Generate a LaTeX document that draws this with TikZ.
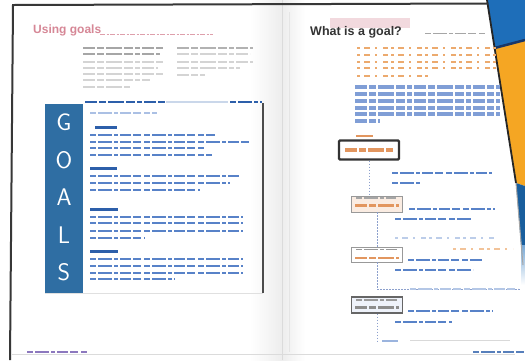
\documentclass[tikz,border=0pt]{standalone}
\usepackage{fontspec}
\newfontfamily\titlefont{Liberation Sans}
\begin{document}
\begin{tikzpicture}[x=1pt,y=-1pt,
  words/.style={dash pattern=on 12pt off 2pt on 7pt off 2pt on 16pt off 2pt on 9pt off 2pt on 5pt off 2pt},
  wordsb/.style={dash pattern=on 6pt off 2pt on 14pt off 2pt on 4pt off 2pt on 11pt off 2pt on 8pt off 3pt},
  sparse/.style={dash pattern=on 3pt off 4pt on 6pt off 5pt on 2pt off 6pt on 5pt off 3pt},
  greytxt/.style={line width=1.5pt, color=black!17, words},
  boxtxt/.style={line width=1.7pt, color=bodyblue, wordsb},
  boxhead/.style={line width=3pt, color=headblue},
  oratxt/.style={line width=1.6pt, color=fadeorange, sparse},
  paratxt/.style={line width=4.2pt, color=parablue, words},
  sidetxt/.style={line width=2.2pt, color=bodyblue, wordsb},
  flowbox/.style={minimum width=51pt, inner sep=0pt},
  conn/.style={line width=1pt, color=connblue, dash pattern=on 1.5pt off 1.5pt},
  letter/.style={text=white, font=\sffamily\fontsize{24}{24}\selectfont}
]
\definecolor{goalblue}{RGB}{47,110,163}
\definecolor{bodyblue}{RGB}{88,130,200}
\definecolor{headblue}{RGB}{45,95,170}
\definecolor{parablue}{RGB}{128,158,214}
\definecolor{fadeorange}{RGB}{236,170,110}
\definecolor{boxorange}{RGB}{226,150,95}
\definecolor{titlepink}{RGB}{214,135,150}
\definecolor{coverblue}{RGB}{30,110,185}
\definecolor{coverorange}{RGB}{245,166,35}
\definecolor{covernavy}{RGB}{25,55,105}
\definecolor{connblue}{RGB}{140,160,205}
\definecolor{footpurple}{RGB}{140,120,190}
\definecolor{frame}{RGB}{55,55,55}
\useasboundingbox (0,0) rectangle (525,360);
\fill[white] (0,0) rectangle (525,360);
% gutter
\shade[left color=white, right color=black!7] (250,0) rectangle (282,360);
\shade[left color=black!7, right color=white] (282,0) rectangle (305,360);
\draw[black!14, line width=0.8pt] (282,0) -- (282,360);
\draw[black!10, line width=1pt] (289,12) -- (289,352);
% cover in the corner
\fill[coverblue] (487,0) -- (525,0) -- (525,40) -- (494.6,48) -- cycle;
\fill[coverorange] (494.6,48) -- (525,40) -- (525,186) -- (516,183) -- cycle;
\draw[covernavy, line width=2.5pt] (494.6,48) -- (525,40);
\fill[coverblue!85!black] (516,183) -- (525,186) -- (525,245) -- (521,245) -- cycle;
\shade[top color=coverblue!60, bottom color=white] (521,245) rectangle (525,285);
\draw[black!85, line width=1.8pt] (487,0) -- (516,183);
\draw[black!35, line width=1pt] (516,183) -- (523,265);
% page frame
\draw[frame, line width=2pt] (10,360) -- (13,5) -- (488,3.5);
\draw[black!14, line width=0.8pt] (12,354) -- (515,354);
% ---------- left page ----------
\node[anchor=west, inner sep=0pt, text=titlepink, font=\titlefont\bfseries\fontsize{12}{12}\selectfont] (ltitle) at (33,30) {Using goals};
\draw[titlepink!80, line width=1pt, dash pattern=on 5pt off 1.5pt on 2pt off 1.5pt] (100,34) -- (213,34);
\draw[greytxt, color=black!35] (83,48) -- (163,48);
\draw[greytxt, color=black!35] (83,54) -- (160,54);
\foreach \y/\e in {62/163,68/158,74/163,80/150,87/130} \draw[greytxt] (83,\y) -- (\e,\y);
\draw[greytxt, color=black!30] (177,48) -- (253,48);
\foreach \y/\e in {54/250,62/253,68/240,75/205} \draw[greytxt] (177,\y) -- (\e,\y);
% goals box
\draw[black!12, line width=0.8pt] (45,293) -- (263,293);
\draw[black!70, line width=1.3pt] (263,103) -- (263,293);
\draw[line width=2.4pt, color=headblue, words] (85,102) -- (165,102);
\draw[line width=2.4pt, color=headblue!25] (166,102) -- (228,102);
\draw[line width=2.4pt, color=headblue, wordsb] (230,102) -- (262,102);
\node[fill=goalblue, minimum width=38pt, minimum height=189pt, inner sep=0pt, anchor=north west] (bar) at (45,104) {};
\node[letter] (lg) at (64,122) {G};
\node[letter] (lo) at (64,160) {O};
\node[letter] (la) at (64,197) {A};
\node[letter] (ll) at (64,235) {L};
\node[letter] (ls) at (64,272) {S};
\draw[line width=1.2pt, color=bodyblue!50, wordsb] (90,113) -- (157,113);
% sections
\draw[boxhead] (95,127) -- (117,127);
\foreach \y/\e in {135/215,142/250,148/205,155/212} \draw[boxtxt] (90,\y) -- (\e,\y);
\draw[boxhead] (90,168) -- (117,168);
\foreach \y/\e in {176/240,183/230,190/200} \draw[boxtxt] (90,\y) -- (\e,\y);
\draw[boxhead] (90,209) -- (118,209);
\foreach \y/\e in {217/243,223/243,231/243,238/145} \draw[boxtxt] (90,\y) -- (\e,\y);
\draw[boxhead] (90,251) -- (118,251);
\foreach \y/\e in {259/243,266/243,273/243,279/175} \draw[boxtxt] (90,\y) -- (\e,\y);
% footer left
\draw[line width=2pt, color=footpurple, wordsb] (27,352) -- (88,352);
% ---------- right page ----------
\fill[titlepink!45, opacity=0.7] (330,18) rectangle (410,28);
\node[anchor=west, inner sep=0pt, text=black!80, font=\titlefont\bfseries\fontsize{12.5}{13}\selectfont] (rtitle) at (310,32) {What is a goal?};
\draw[black!35, line width=1pt, wordsb] (425,33) -- (485,33);
\foreach \y/\e in {48/497,55/497,62/497,68/497,76/430} \draw[oratxt] (357,\y) -- (\e,\y);
\foreach \y/\e in {87/500,94/500,101/500,108/500,114/500,121/380} \draw[paratxt] (355,\y) -- (\e,\y);
\draw[line width=2pt, color=boxorange] (356,136) -- (373,136);
% flow boxes
\node[flowbox, draw=black!80, line width=2.2pt, minimum width=60pt, minimum height=19pt, rounded corners=1pt] (b1) at (369,150) {};
\draw[line width=3.5pt, color=boxorange, words] (345,150) -- (393,150);
\node[flowbox, draw=black!40, fill=boxorange!18, minimum height=16pt] (b2) at (377,204) {};
\draw[line width=1.4pt, color=black!35, wordsb] (356,198) -- (396,198);
\draw[line width=3pt, color=boxorange, words] (355,205) -- (399,205);
\node[flowbox, draw=black!40, minimum height=15pt] (b3) at (377,254.5) {};
\draw[line width=1.4pt, color=black!40, wordsb] (356,249.5) -- (398,249.5);
\draw[line width=2.6pt, color=boxorange, words] (355,258) -- (399,258);
\node[flowbox, draw=black!60, line width=1.2pt, fill=bodyblue!10, minimum height=16pt] (b4) at (377,305) {};
\draw[line width=1.4pt, color=black!40, wordsb] (356,300) -- (398,300);
\draw[line width=3pt, color=black!45, words] (355,307) -- (399,307);
\coordinate (h3) at (520,289);
\coordinate (e4) at (377,341);
\draw[conn] (b1.south) -- (b1.south |- b2.north);
\draw[conn] (b2.south) -- (b3.north);
\draw[conn] (b3.south) |- (h3);
\draw[conn] (b4.south) -- (e4);
% side texts
\draw[sidetxt] (392,173) -- (492,173);
\draw[sidetxt] (392,183) -- (420,183);
\draw[sidetxt] (409,209) -- (495,209);
\draw[sidetxt] (395,219) -- (472,219);
\draw[line width=1.2pt, color=bodyblue!40, sparse] (395,238) -- (495,238);
\draw[line width=1.2pt, color=fadeorange!70, sparse] (453,249) -- (513,249);
\draw[sidetxt] (408,260) -- (482,260);
\draw[sidetxt] (395,270) -- (473,270);
\draw[line width=1.5pt, color=bodyblue!45, wordsb] (410,289) -- (518,289);
\draw[sidetxt] (408,311) -- (493,311);
\draw[sidetxt] (395,322) -- (452,322);
\draw[line width=1.3pt, color=bodyblue!60] (382,341) -- (398,341);
\draw[black!15, line width=0.8pt] (410,340) -- (510,340);
% footer right
\draw[line width=2.5pt, color=headblue!80, wordsb] (473,352) -- (525,352);
\end{tikzpicture}
\end{document}
